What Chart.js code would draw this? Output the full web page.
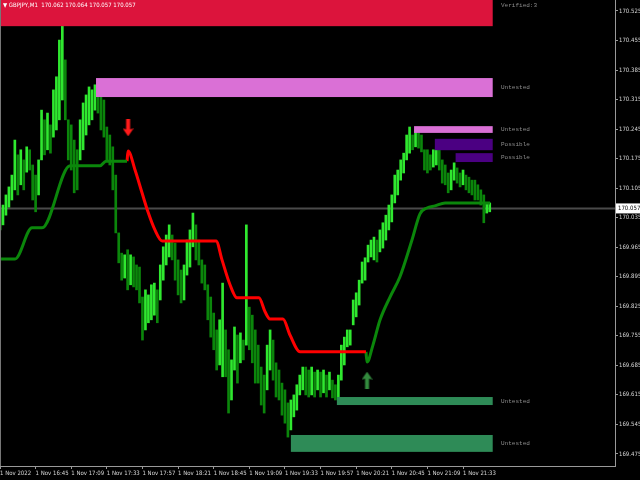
<!DOCTYPE html>
<html>
<head>
<meta charset="utf-8">
<script src="https://cdn.jsdelivr.net/npm/chart.js@4.4.0/dist/chart.umd.min.js"></script>
<style>
  html, body { margin: 0; padding: 0; background: #000; }
  canvas { display: block; }
</style>
</head>
<body>
<canvas id="chart" width="640" height="480"></canvas>
<script>
// GBPJPY M1, x = minutes since 16:21, one bar read every 2 minutes
const barHigh = [
  170.053,170.065,170.089,170.108,170.136,170.219,170.184,170.196,170.172,170.203,
  170.196,170.160,170.136,170.172,170.290,170.267,170.283,170.255,170.338,170.369,
  170.456,170.492,170.409,170.267,170.255,170.219,170.196,170.267,170.307,170.326,
  170.345,170.338,170.350,170.342,170.321,170.314,170.250,170.231,170.203,170.136,
  169.999,169.951,169.947,169.959,169.947,169.942,169.923,169.918,169.847,169.864,
  169.852,169.876,169.880,169.864,169.923,169.966,169.994,170.018,169.994,169.975,
  169.935,169.911,169.923,169.982,170.006,170.046,170.018,169.982,169.935,169.923,
  169.876,169.847,169.809,169.769,169.793,169.880,169.769,169.722,169.698,169.776,
  169.757,169.762,169.745,170.018,169.823,169.804,169.769,169.733,169.681,169.662,
  169.733,169.769,169.745,169.691,169.674,169.643,169.627,169.596,169.603,169.615,
  169.639,169.662,169.681,169.681,169.674,169.681,169.669,169.674,169.669,169.674,
  169.662,169.669,169.650,169.639,169.662,169.733,169.752,169.769,169.769,169.840,
  169.857,169.887,169.930,169.940,169.970,169.982,169.989,169.982,170.006,170.023,
  170.041,170.065,170.089,170.136,170.148,170.172,170.188,170.231,170.250,170.231,
  170.243,170.236,170.231,170.196,170.196,170.184,170.196,170.212,170.200,170.172,
  170.160,170.141,170.148,170.165,170.153,170.141,170.148,170.136,170.131,170.124,
  170.124,170.113,170.101,170.089,170.070,170.070
];
const barLow = [
  170.006,170.018,170.041,170.060,170.077,170.101,170.089,170.113,170.101,170.143,
  170.148,170.077,170.049,170.089,170.172,170.184,170.196,170.188,170.226,170.243,
  170.267,170.314,170.267,170.172,170.148,170.094,170.101,170.172,170.196,170.231,
  170.255,170.267,170.290,170.283,170.243,170.226,170.172,170.160,170.101,169.999,
  169.928,169.887,169.892,169.864,169.876,169.871,169.864,169.833,169.745,169.769,
  169.786,169.793,169.804,169.786,169.840,169.887,169.923,169.942,169.935,169.887,
  169.852,169.833,169.840,169.899,169.918,169.966,169.935,169.923,169.880,169.864,
  169.793,169.752,169.722,169.674,169.686,169.658,169.658,169.572,169.603,169.674,
  169.643,169.691,169.698,169.733,169.722,169.691,169.643,169.643,169.591,169.572,
  169.627,169.674,169.650,169.610,169.603,169.567,169.548,169.515,169.532,169.563,
  169.579,169.615,169.627,169.615,169.610,169.615,169.610,169.627,169.610,169.620,
  169.610,169.627,169.608,169.603,169.603,169.650,169.686,169.729,169.733,169.781,
  169.800,169.828,169.880,169.887,169.930,169.942,169.935,169.930,169.954,169.963,
  169.982,170.006,170.025,170.070,170.089,170.124,170.141,170.172,170.188,170.196,
  170.203,170.200,170.191,170.148,170.141,170.148,170.155,170.160,170.148,170.117,
  170.113,170.094,170.101,170.124,170.117,170.108,170.113,170.101,170.094,170.089,
  170.077,170.077,170.065,170.023,170.046,170.049
];
const lastPrice = 170.057;

// trend line, split by colour
const upLine1X = [0, 10.1, 21.6, 28.3, 47.2, 67.4, 71.4, 85.6];
const upLine1Y = [169.937, 169.937, 170.011, 170.011, 170.158, 170.158, 170.169, 170.169];
const downLineX = [85.6, 86.3, 91, 95.7, 99.7, 104.4, 109.2, 145.6, 149.6, 155, 159.7, 174.5, 178.6, 181.9, 190.7, 195.4, 202.2, 246.6];
const downLineY = [170.169, 170.193, 170.148, 170.094, 170.049, 170.006, 169.980, 169.980, 169.935, 169.876, 169.845, 169.845, 169.812, 169.795, 169.795, 169.757, 169.717, 169.717];
const upLine2X = [246.6, 247.3, 251.3, 256.1, 262.8, 269.5, 277.6, 283, 287.7, 293.1, 299.9, 330.2];
const upLine2Y = [169.717, 169.693, 169.733, 169.793, 169.847, 169.895, 169.982, 170.044, 170.058, 170.063, 170.070, 170.070];

// signal arrows
const signalX = [86.3, 247.3];
const signalY = [170.248, 169.650];

// supply / demand zones
const zoneFrom = [0, 64.7, 279, 293, 307, 227, 196];
const zoneTo = [332, 332, 332, 332, 332, 332, 332];
const zoneTop = [170.589, 170.366, 170.252, 170.222, 170.188, 169.610, 169.520];
const zoneBottom = [170.489, 170.321, 170.236, 170.195, 170.167, 169.591, 169.480];
const zoneColor = ['#dc143c', '#da70d6', '#da70d6', '#4b0082', '#4b0082', '#2e8b57', '#2e8b57'];
const zoneText = ['Verified:3', 'Untested', 'Untested', 'Possible', 'Possible', 'Untested', 'Untested'];
const zoneLabelX = 337.6;

// axes
const timeTicks = [0, 24, 48, 72, 96, 120, 144, 168, 192, 216, 240, 264, 288, 312];
const timeLabels = ['1 Nov 2022', '1 Nov 16:45', '1 Nov 17:09', '1 Nov 17:33', '1 Nov 17:57', '1 Nov 18:21', '1 Nov 18:45',
  '1 Nov 19:09', '1 Nov 19:33', '1 Nov 19:57', '1 Nov 20:21', '1 Nov 20:45', '1 Nov 21:09', '1 Nov 21:33'];
const priceTicks = [170.525, 170.455, 170.385, 170.315, 170.245, 170.175, 170.105, 170.035,
  169.965, 169.895, 169.825, 169.755, 169.685, 169.615, 169.545, 169.475];

const smallFont = "'Liberation Sans Narrow', 'DejaVu Sans Condensed', sans-serif";
const monoFont = "'Liberation Mono', 'DejaVu Sans Mono', monospace";

const bars = barHigh.map((h, i) => ({ x: i * 2, y: [barLow[i], h] }));
const barColors = bars.map((b, i) => {
  if (i === 0) return '#2fe82f';
  const mid = (b.y[0] + b.y[1]) / 2;
  const prev = (bars[i - 1].y[0] + bars[i - 1].y[1]) / 2;
  return mid >= prev ? '#2fe82f' : '#0b860b';
});

function arrow(color, up) {
  const c = document.createElement('canvas');
  c.width = 11; c.height = 17;
  const g = c.getContext('2d');
  g.fillStyle = color;
  g.beginPath();
  if (up) {
    g.moveTo(5.5, 0); g.lineTo(11, 8); g.lineTo(7.5, 7); g.lineTo(7.5, 17);
    g.lineTo(3.5, 17); g.lineTo(3.5, 7); g.lineTo(0, 8);
  } else {
    g.moveTo(5.5, 17); g.lineTo(11, 9); g.lineTo(7.5, 10); g.lineTo(7.5, 0);
    g.lineTo(3.5, 0); g.lineTo(3.5, 10); g.lineTo(0, 9);
  }
  g.closePath();
  g.fill();
  return c;
}

const pts = (xs, ys) => xs.map((x, i) => ({ x: x, y: ys[i] }));

const overlay = {
  id: 'overlay',
  beforeDatasetsDraw(chart) {
    const { ctx, chartArea: a, scales: { y } } = chart;
    const py = Math.round(y.getPixelForValue(lastPrice)) + 0.5;
    ctx.save();
    ctx.strokeStyle = '#4a4a4a';
    ctx.lineWidth = 2;
    ctx.beginPath();
    ctx.moveTo(a.left, py);
    ctx.lineTo(a.right, py);
    ctx.stroke();
    ctx.restore();
  },
  afterDatasetsDraw(chart) {
    const { ctx, chartArea: a, scales: { x, y } } = chart;
    ctx.save();
    ctx.beginPath();
    ctx.rect(a.left, a.top, a.right - a.left, a.bottom - a.top);
    ctx.clip();
    zoneFrom.forEach((f, i) => {
      const x0 = x.getPixelForValue(f), x1 = x.getPixelForValue(zoneTo[i]);
      const y0 = y.getPixelForValue(zoneTop[i]), y1 = y.getPixelForValue(zoneBottom[i]);
      ctx.fillStyle = zoneColor[i];
      ctx.fillRect(x0, y0, x1 - x0, y1 - y0);
      ctx.fillStyle = '#8c8c8c';
      ctx.font = '6px ' + monoFont;
      ctx.textBaseline = 'middle';
      ctx.fillText(zoneText[i], x.getPixelForValue(zoneLabelX), (y0 + y1) / 2);
    });
    ctx.restore();
  },
  afterDraw(chart) {
    const { ctx, chartArea: a, scales: { y } } = chart;
    ctx.save();
    ctx.strokeStyle = '#777';
    ctx.lineWidth = 1;
    ctx.beginPath();
    ctx.moveTo(a.left + 0.5, a.top);
    ctx.lineTo(a.left + 0.5, a.bottom);
    ctx.stroke();
    // header
    ctx.fillStyle = '#fff';
    ctx.font = '6px ' + smallFont;
    ctx.textBaseline = 'middle';
    ctx.fillText('\u25BC GBPJPY,M1  170.062 170.064 170.057 170.057', 3, 5);
    // last price box
    const py = y.getPixelForValue(lastPrice);
    ctx.fillStyle = '#fff';
    ctx.fillRect(a.right + 1, py - 5, 24, 10);
    ctx.fillStyle = '#000';
    ctx.fillText(lastPrice.toFixed(3), a.right + 3, py);
    ctx.restore();
  }
};

new Chart(document.getElementById('chart'), {
  type: 'bar',
  data: {
    datasets: [
      {
        type: 'line', data: pts(upLine1X, upLine1Y), borderColor: '#0b870b', borderWidth: 3,
        pointRadius: 0, cubicInterpolationMode: 'monotone', order: 1
      },
      {
        type: 'line', data: pts(downLineX, downLineY), borderColor: '#ff0000', borderWidth: 3,
        pointRadius: 0, cubicInterpolationMode: 'monotone', order: 1
      },
      {
        type: 'line', data: pts(upLine2X, upLine2Y), borderColor: '#0b870b', borderWidth: 3,
        pointRadius: 0, cubicInterpolationMode: 'monotone', order: 1
      },
      {
        type: 'scatter', data: pts(signalX, signalY),
        pointStyle: [arrow('#ff1a1a', false), arrow('#338a3e', true)], order: 0
      },
      {
        type: 'bar', data: bars, backgroundColor: barColors, barThickness: 2,
        grouped: false, order: 2
      }
    ]
  },
  options: {
    responsive: false,
    animation: false,
    layout: { padding: 0, autoPadding: false },
    plugins: { legend: { display: false }, tooltip: { enabled: false } },
    scales: {
      x: {
        type: 'linear', min: 0, max: 414.4, offset: false,
        afterBuildTicks: s => { s.ticks = timeTicks.map(v => ({ value: v })); },
        afterFit: s => { s.height = 14; s.paddingLeft = 0; s.paddingRight = 0; },
        ticks: {
          autoSkip: false, maxRotation: 0, align: 'start', padding: 1,
          color: '#d8d8d8', font: { family: smallFont, size: 6 },
          callback: (v, i) => timeLabels[i]
        },
        grid: { drawOnChartArea: false, tickLength: 3, color: '#999', offset: false },
        border: { color: '#999' }
      },
      y: {
        position: 'right', min: 169.4465, max: 170.551,
        afterBuildTicks: s => { s.ticks = priceTicks.map(v => ({ value: v })); },
        afterFit: s => { s.width = 25; s.paddingTop = 0; s.paddingBottom = 0; },
        ticks: {
          padding: 1, color: '#d8d8d8', font: { family: smallFont, size: 6 },
          callback: v => v.toFixed(3)
        },
        grid: { drawOnChartArea: false, tickLength: 3, color: '#999' },
        border: { color: '#999' }
      }
    }
  },
  plugins: [overlay]
});
</script>
</body>
</html>
